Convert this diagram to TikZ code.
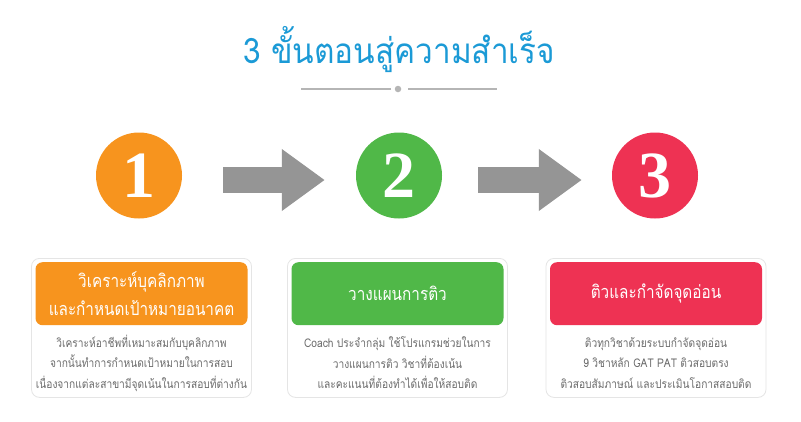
\documentclass[tikz,border=0pt]{standalone}
\usepackage{fontspec}
\setmainfont[Script=Thai]{Loma}
\newfontfamily\narrowthai[Script=Thai,FakeStretch=0.85]{Loma}
\newfontfamily\titlethai[Script=Thai,FakeStretch=0.9]{Loma}
\newfontfamily\numfont{Liberation Serif}
\usepackage{tikz}
\usetikzlibrary{arrows.meta,positioning}

\definecolor{titleblue}{HTML}{1B9AD6}
\definecolor{steporange}{HTML}{F7941E}
\definecolor{stepgreen}{HTML}{50B848}
\definecolor{stepred}{HTML}{EE3253}
\definecolor{arrowgray}{HTML}{959595}
\definecolor{linegray}{HTML}{B5B5B5}
\definecolor{bodygray}{HTML}{6B6B6B}

\begin{document}
\begin{tikzpicture}[
  x=1pt, y=-1pt,
  title/.style={text=titleblue, font=\titlethai\fontsize{35}{40}\selectfont},
  divider/.style={linegray, line width=1.3pt},
  stepcircle/.style={
    circle, minimum size=86pt, inner sep=0pt,
    text=white, font=\numfont\bfseries\fontsize{66}{66}\selectfont,
  },
  bigarrow/.style={arrowgray, line width=26pt, -{Triangle[length=43pt,width=59pt]}},
  card/.style={
    draw=black!10, line width=0.8pt, rounded corners=8pt, fill=white,
    minimum width=220pt, minimum height=139pt, inner sep=0pt, anchor=north,
  },
  cardhead/.style={
    rounded corners=7pt, minimum width=212pt, minimum height=63pt,
    inner sep=0pt, anchor=north, text=white, align=center,
    font=\narrowthai\fontsize{18}{28}\selectfont,
  },
  cardtext/.style={text=bodygray, align=center, font=\narrowthai\fontsize{12}{20.5}\selectfont},
]
\useasboundingbox[fill=white] (0,0) rectangle (801,421);

% Title and divider
\node[title] (title) at (399,50) {3 ขั้นตอนสู่ความสำเร็จ};
\node[circle, fill=linegray, minimum size=6.5pt, inner sep=0pt] (dot) at (398,89) {};
\coordinate (lineL) at (301,89);
\coordinate (lineR) at (497,89);
\draw[divider] ([xshift=-7pt]dot.center) -- (lineL);
\draw[divider] ([xshift=10pt]dot.center) -- (lineR);

% Step circles
\node[stepcircle, fill=steporange] (step1) at (139,175.5) {1};
\node[stepcircle, fill=stepgreen] (step2) at (399,175.5) {2};
\node[stepcircle, fill=stepred] (step3) at (655,175.5) {3};

% Arrows
\draw[bigarrow] ([xshift=41pt,yshift=-4.5pt]step1.east) -- ([xshift=-31pt,yshift=-4.5pt]step2.west);
\draw[bigarrow] ([xshift=36pt,yshift=-4.5pt]step2.east) -- ([xshift=-30pt,yshift=-4.5pt]step3.west);

% Cards
\node[card] (card1) at (141.5,258) {};
\node[card] (card2) at (397.5,258) {};
\node[card] (card3) at (656,258) {};

\node[cardhead, fill=steporange] (head1) at ([yshift=-4pt]card1.north) {วิเคราะห์บุคลิกภาพ\\และกำหนดเป้าหมายอนาคต};
\node[cardhead, fill=stepgreen] (head2) at ([yshift=-4pt]card2.north) {วางแผนการติว};
\node[cardhead, fill=stepred] (head3) at ([yshift=-4pt]card3.north) {ติวและกำจัดจุดอ่อน};

\node[cardtext] (text1) at ([yshift=-105pt]card1.north) {%
  วิเคราะห์อาชีพที่เหมาะสมกับบุคลิกภาพ\\
  จากนั้นทำการกำหนดเป้าหมายในการสอบ\\
  เนื่องจากแต่ละสาขามีจุดเน้นในการสอบที่ต่างกัน};
\node[cardtext] (text2) at ([yshift=-105pt]card2.north) {%
  Coach ประจำกลุ่ม ใช้โปรแกรมช่วยในการ\\
  วางแผนการติว วิชาที่ต้องเน้น\\
  และคะแนนที่ต้องทำได้เพื่อให้สอบติด};
\node[cardtext] (text3) at ([yshift=-105pt]card3.north) {%
  ติวทุกวิชาด้วยระบบกำจัดจุดอ่อน\\
  9 วิชาหลัก GAT PAT ติวสอบตรง\\
  ติวสอบสัมภาษณ์ และประเมินโอกาสสอบติด};

\end{tikzpicture}
\end{document}
